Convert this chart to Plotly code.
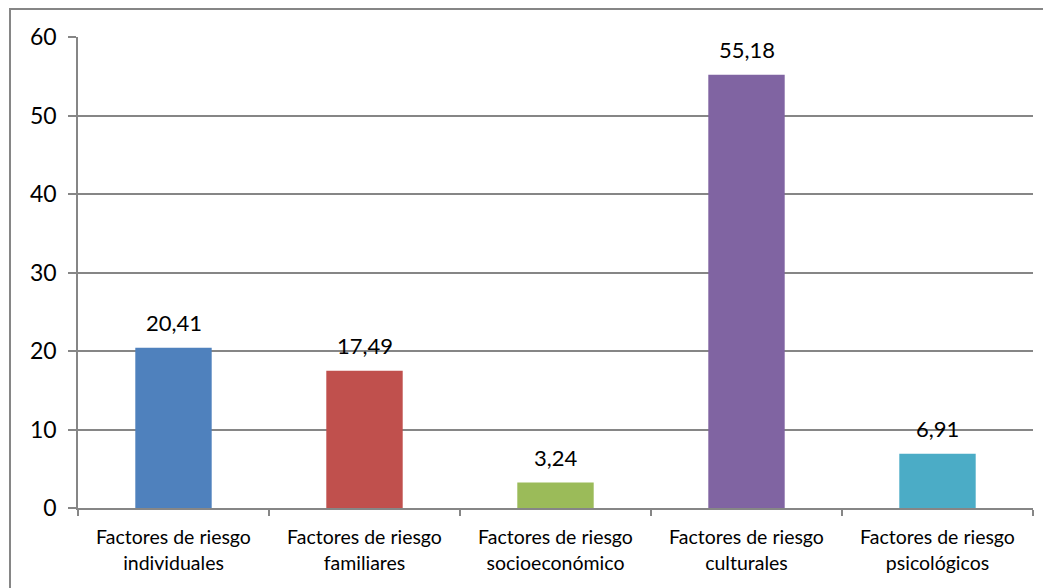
import plotly.graph_objects as go

categories = [
    "Factores de riesgo<br>individuales",
    "Factores de riesgo<br>familiares",
    "Factores de riesgo<br>socioeconómico",
    "Factores de riesgo<br>culturales",
    "Factores de riesgo<br>psicológicos",
]
values = [20.41, 17.49, 3.24, 55.18, 6.91]
colors = ["#4F81BD", "#C0504D", "#9BBB59", "#8064A2", "#4BACC6"]
y_ticks = [0, 10, 20, 30, 40, 50, 60]

labels = [f"{v:.2f}".replace(".", ",") for v in values]

fig = go.Figure(
    go.Bar(
        x=categories,
        y=values,
        marker=dict(color=colors, line=dict(width=0)),
        width=0.4,
        hoverinfo="x+y",
    )
)

for c, v, t in zip(categories, values, labels):
    fig.add_annotation(
        x=c, y=v, text=t, showarrow=False,
        yanchor="bottom", yshift=10,
        font=dict(size=22, color="#000000", family="Lato"),
    )

W, H = 1051, 588
L, R, T, B = 70, 26, 29, 88

fig.update_layout(
    width=W,
    height=H,
    margin=dict(l=L, r=R, t=T, b=B, pad=0),
    paper_bgcolor="white",
    plot_bgcolor="white",
    showlegend=False,
    font=dict(family="Lato", color="#000000"),
    xaxis=dict(
        showgrid=False,
        showline=True,
        linecolor="#868686",
        linewidth=1.5,
        ticks="outside",
        tickson="boundaries",
        ticklen=6,
        tickcolor="#868686",
        tickwidth=1.5,
        tickfont=dict(size=19.5, family="Lato"),
        ticklabelstandoff=11,
    ),
    yaxis=dict(
        range=[0, 60],
        tickvals=y_ticks,
        showgrid=True,
        gridcolor="#868686",
        gridwidth=1.5,
        showline=True,
        linecolor="#868686",
        linewidth=1.5,
        ticks="outside",
        ticklen=8,
        tickcolor="#868686",
        tickwidth=1.5,
        tickfont=dict(size=23, family="Lato"),
        ticklabelstandoff=7,
        zeroline=False,
    ),
)

pw = W - L - R
ph = H - T - B
fig.add_shape(
    type="rect",
    xref="paper",
    yref="paper",
    x0=(2 - L) / pw,
    x1=(W + 20 - L) / pw,
    y0=-(B + 20) / ph,
    y1=(H - 1 - B) / ph,
    line=dict(color="#868686", width=2),
    fillcolor="rgba(0,0,0,0)",
    layer="below",
)

fig.write_html("out.html")
